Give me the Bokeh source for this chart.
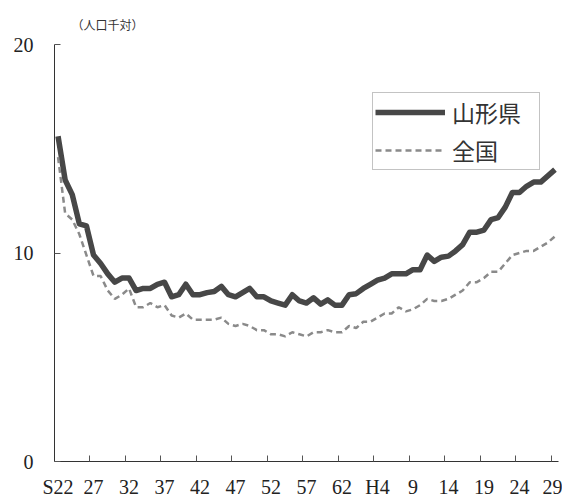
from bokeh.plotting import figure
from bokeh.models import FixedTicker, Legend, LegendItem, Range1d
from bokeh.embed import file_html
from bokeh.resources import INLINE

# Year index 0 = S22 (1947) ... 70 = H29 (2017)
tick_labels = ["S22", "27", "32", "37", "42", "47", "52", "57", "62",
               "H4", "9", "14", "19", "24", "29"]

yamagata = [15.6, 13.5, 12.8, 11.4, 11.3, 9.9, 9.5, 9.0, 8.6, 8.8,
            8.8, 8.2, 8.3, 8.3, 8.5, 8.6, 7.9, 8.0, 8.5, 8.0,
            8.0, 8.1, 8.15, 8.4, 8.0, 7.9, 8.1, 8.3, 7.9, 7.9,
            7.7, 7.6, 7.5, 8.0, 7.7, 7.6, 7.85, 7.55, 7.75, 7.5,
            7.5, 8.0, 8.05, 8.3, 8.5, 8.7, 8.8, 9.0, 9.0, 9.0,
            9.2, 9.2, 9.9, 9.6, 9.8, 9.85, 10.1, 10.4, 11.0, 11.0,
            11.1, 11.6, 11.7, 12.2, 12.9, 12.9, 13.2, 13.4, 13.4, 13.7,
            14.0]

zenkoku = [14.6, 11.9, 11.6, 10.9, 9.9, 8.9, 8.9, 8.2, 7.8, 8.0,
           8.3, 7.4, 7.4, 7.6, 7.4, 7.5, 7.0, 6.9, 7.1, 6.8,
           6.8, 6.8, 6.8, 6.9, 6.6, 6.5, 6.6, 6.5, 6.3, 6.3,
           6.1, 6.1, 6.0, 6.2, 6.1, 6.0, 6.2, 6.2, 6.3, 6.2,
           6.2, 6.5, 6.4, 6.7, 6.7, 6.9, 7.1, 7.1, 7.4, 7.2,
           7.3, 7.5, 7.8, 7.7, 7.7, 7.8, 8.0, 8.2, 8.6, 8.6,
           8.8, 9.1, 9.1, 9.5, 9.9, 10.0, 10.1, 10.1, 10.3, 10.5,
           10.8]

years = list(range(len(yamagata)))
label_pos = years[::5]
boundary_pos = [i - 0.5 for i in label_pos[1:]]

p = figure(width=562, height=500, output_backend="svg", toolbar_location=None,
           x_range=Range1d(-0.5, len(years) - 0.5), y_range=Range1d(0, 20),
           min_border_left=54, min_border_right=4, min_border_top=44,
           min_border_bottom=37)
p.outline_line_color = None
p.grid.visible = False
p.background_fill_color = "white"

sr = p.line(years, yamagata, line_color="#474747", line_width=5.5, line_join="round")
dr = p.line(years, zenkoku, line_color="#8a8a8a", line_width=2.5, line_dash="6 4")

xa = p.xaxis[0]
xa.ticker = FixedTicker(ticks=label_pos, minor_ticks=boundary_pos)
xa.major_label_overrides = {pos: lab for pos, lab in zip(label_pos, tick_labels)}
xa.major_tick_in = 0
xa.major_tick_out = 0
xa.minor_tick_in = 6
xa.minor_tick_out = 0
xa.minor_tick_line_color = "#555555"
xa.axis_line_color = "#333333"
xa.major_label_text_font = "Liberation Serif"
xa.major_label_text_font_size = "20px"
xa.major_label_text_color = "#222222"
xa.major_label_standoff = 14

ya = p.yaxis[0]
ya.ticker = FixedTicker(ticks=[0, 10, 20])
ya.major_tick_in = 6
ya.major_tick_out = 0
ya.minor_tick_line_color = None
ya.major_tick_line_color = "#555555"
ya.axis_line_color = "#333333"
ya.major_label_text_font = "Liberation Serif"
ya.major_label_text_font_size = "20px"
ya.major_label_text_color = "#222222"
ya.major_label_standoff = 21

p.title.text = "（人口千対）"
p.title.text_font = "Noto Sans CJK JP"
p.title.text_font_size = "12px"
p.title.text_font_style = "normal"
p.title.text_color = "#333333"
p.title.offset = 17
p.title.standoff = 24

legend = Legend(items=[LegendItem(label="山形県", renderers=[sr]),
                       LegendItem(label="全国", renderers=[dr])],
                location=(318, 291))
legend.label_text_font = "Noto Sans CJK JP"
legend.label_text_font_size = "23px"
legend.label_text_color = "#333333"
legend.glyph_width = 70
legend.glyph_height = 28
legend.label_height = 28
legend.label_width = 85
legend.label_standoff = 7
legend.spacing = 4
legend.padding = 2
legend.margin = 0
legend.border_line_color = "#888888"
legend.border_line_width = 1
legend.background_fill_alpha = 1
p.add_layout(legend, "center")

open("out.html", "w").write(file_html(p, INLINE))
